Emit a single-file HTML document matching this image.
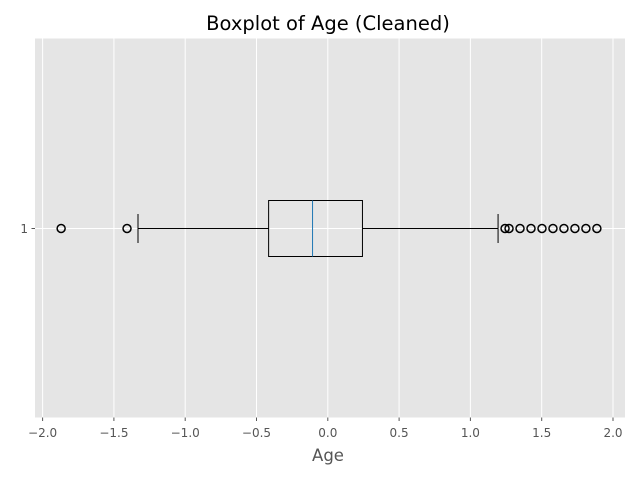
<!DOCTYPE html>
<html><head><meta charset="utf-8"><style>
body{margin:0;background:#fff}
text{font-family:"DejaVu Sans","Liberation Sans",sans-serif}
</style></head><body>
<svg id="chart" width="640" height="480">
<rect width="640" height="480" fill="#fff"/>
<rect x="35" y="38.5" width="590" height="379" fill="#e5e5e5"/>
<g id="grid"></g>
<g id="marks"></g>
<g id="axes"></g>
<text x="328" y="30" text-anchor="middle" font-size="19.5" fill="#000">Boxplot of Age (Cleaned)</text>
<text x="328" y="461" text-anchor="middle" font-size="16.5" fill="#555">Age</text>
</svg>
<script>
const xTicks = [-2.0, -1.5, -1.0, -0.5, 0.0, 0.5, 1.0, 1.5, 2.0];
const xTickLabels = ["\u22122.0","\u22121.5","\u22121.0","\u22120.5","0.0","0.5","1.0","1.5","2.0"];
const categories = ["1"];
const whiskerLow = [-1.331];
const q1 = [-0.415];
const median = [-0.107];
const q3 = [0.243];
const whiskerHigh = [1.194];
const outliers = [-1.87, -1.408, 1.243, 1.271, 1.348, 1.425, 1.502, 1.579, 1.656, 1.733, 1.810, 1.887];

const NS = "http://www.w3.org/2000/svg";
const x = v => 327.8 + v * 142.6;
const y = i => 228.5;
function mk(tag, attrs, parent){const e=document.createElementNS(NS,tag);for(const k in attrs)e.setAttribute(k,attrs[k]);parent.appendChild(e);return e;}
const grid=document.getElementById('grid'), marks=document.getElementById('marks'), axes=document.getElementById('axes');

xTicks.forEach((t,i)=>{
  const gl=mk('line',{x1:x(t),x2:x(t),y1:38.5,y2:417.5,stroke:'#fff','stroke-width':1},grid);
  
  
  const tk=mk('line',{x1:x(t),x2:x(t),y1:417.5,y2:421,stroke:'#555','stroke-width':1},axes);
  
  
  const tl=mk('text',{x:x(t),y:437,'text-anchor':'middle','font-size':12,fill:'#555'},axes);
  tl.textContent=xTickLabels[i];
  
  
});
categories.forEach((c,i)=>{
  const yy=y(i);
  const gl=mk('line',{x1:35,x2:625,y1:yy,y2:yy,stroke:'#fff','stroke-width':1},grid);
  
  
  const tk=mk('line',{x1:31.5,x2:35,y1:yy,y2:yy,stroke:'#555'},axes);
  
  
  const tl=mk('text',{x:28,y:yy+4.5,'text-anchor':'end','font-size':12,fill:'#555'},axes);
  tl.textContent=c;
  
  

  const w1=mk('line',{x1:x(whiskerLow[i]),x2:x(q1[i]),y1:yy,y2:yy,stroke:'#000'},marks);
  
  
  const w2=mk('line',{x1:x(q3[i]),x2:x(whiskerHigh[i]),y1:yy,y2:yy,stroke:'#000'},marks);
  
  
  const c1=mk('line',{x1:x(whiskerLow[i]),x2:x(whiskerLow[i]),y1:yy-14.5,y2:yy+14.5,stroke:'#000'},marks);
  
  
  const c2=mk('line',{x1:x(whiskerHigh[i]),x2:x(whiskerHigh[i]),y1:yy-14.5,y2:yy+14.5,stroke:'#000'},marks);
  
  
  const b=mk('rect',{x:x(q1[i]),y:yy-28,width:x(q3[i])-x(q1[i]),height:56,fill:'none',stroke:'#000'},marks);
  
  
  const m=mk('line',{x1:x(median[i]),x2:x(median[i]),y1:yy-28,y2:yy+28,stroke:'#1f77b4'},marks);
  
  
  outliers.forEach(o=>{
    const p=mk('circle',{cx:x(o),cy:yy,r:4,fill:'none',stroke:'#000','stroke-width':1.5},marks);
    
    
  });
});
</script>
</body></html>
